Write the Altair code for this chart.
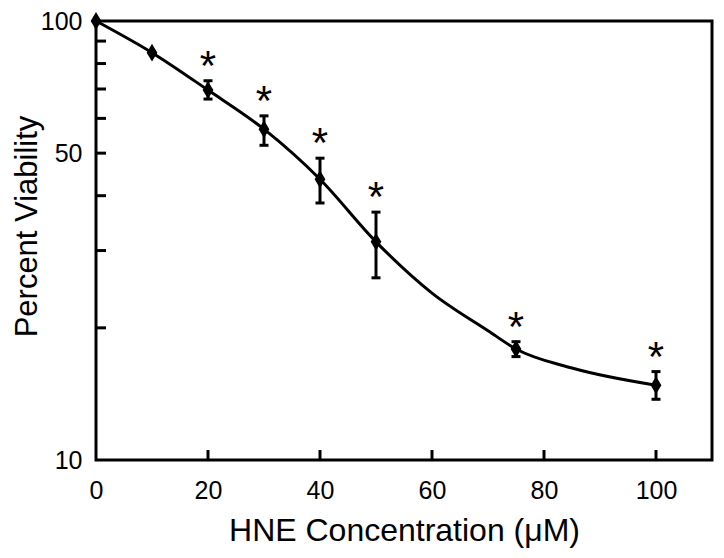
import altair as alt
import pandas as pd

# Measured data points (HNE concentration, µM -> percent viability)
conc = [0, 10, 20, 30, 40, 50, 75, 100]
viability = [100, 84.7, 69.6, 56.7, 43.6, 31.4, 17.9, 14.8]

# Error bars (only where visible)
err_conc = [20, 30, 40, 50, 75, 100]
err_lo = [66.4, 52.1, 38.5, 26.0, 17.2, 13.75]
err_hi = [73.1, 60.8, 48.7, 36.7, 18.6, 15.9]
significant = ["*", "*", "*", "*", "*", "*"]

# Fitted curve
curve_conc = [0, 10, 20, 30, 40, 50, 60, 70, 75, 85, 100]
curve_via = [100, 84.7, 69.6, 56.7, 43.6, 31.4, 24.0, 19.7, 17.9, 16.2, 14.8]

# Axis ticks
x_label_vals = [0, 20, 40, 60, 80, 100]
x_tick_vals = [20, 40, 60, 80, 100]
y_label_vals = [10, 50, 100]
y_tick_vals = [20, 30, 40, 50, 60, 70, 80, 90]

pts = pd.DataFrame({"conc": conc, "via": viability})
err = pd.DataFrame({"conc": err_conc, "lo": err_lo, "hi": err_hi, "star": significant})
curve = pd.DataFrame({"conc": curve_conc, "via": curve_via})
xt = pd.DataFrame({"v": x_tick_vals})
yt = pd.DataFrame({"v": y_tick_vals})

FONT = "Liberation Sans"
W, H = 616, 439

xscale = alt.Scale(domain=[0, 110], nice=False, zero=False)
yscale = alt.Scale(type="log", domain=[10, 100], nice=False)

xaxis = alt.Axis(values=x_label_vals, title="HNE Concentration (μM)", grid=False,
                 ticks=False, tickSize=0, domain=False, labelFontSize=25,
                 labelFont=FONT, labelColor="black", labelBaseline="alphabetic",
                 labelPadding=38, labelFlush=False,
                 titleFont=FONT, titleFontSize=32, titleFontWeight="normal",
                 titleColor="black", titleBaseline="alphabetic", titleY=80, titleX=W / 2)
yaxis = alt.Axis(values=y_label_vals, title="Percent Viability", grid=False,
                 ticks=False, tickSize=0, domain=False, labelFontSize=25,
                 labelFont=FONT, labelColor="black", labelPadding=14,
                 labelBaseline="middle", labelFlush=False, format="d",
                 titleFont=FONT, titleFontSize=31, titleFontWeight="normal",
                 titleColor="black", titleAngle=270, titleBaseline="alphabetic",
                 titleAlign="center", titleX=-60, titleY=205)


def X(f):
    return alt.X(f, type="quantitative", scale=xscale, axis=xaxis)


def Y(f):
    return alt.Y(f, type="quantitative", scale=yscale, axis=yaxis)


line = alt.Chart(curve).mark_line(color="black", strokeWidth=3, interpolate="monotone").encode(
    x=X("conc"), y=Y("via"),
)

bars = alt.Chart(err).mark_rule(color="black", strokeWidth=3).encode(
    x=X("conc"), y=Y("lo"), y2="hi:Q",
)
cap_lo = alt.Chart(err).mark_tick(color="black", thickness=3, size=9, orient="horizontal", opacity=1).encode(
    x=X("conc"), y=Y("lo"),
)
cap_hi = alt.Chart(err).mark_tick(color="black", thickness=3, size=9, orient="horizontal", opacity=1).encode(
    x=X("conc"), y=Y("hi"),
)

diamond = "M0,-1L0.6,0L0,1L-0.6,0Z"
points = alt.Chart(pts).mark_point(shape=diamond, filled=True, color="black", size=320, opacity=1).encode(
    x=X("conc"), y=Y("via"),
)

stars = alt.Chart(err).mark_text(font=FONT, fontSize=42, color="black", baseline="alphabetic", dy=-1).encode(
    x=X("conc"), y=Y("hi"), text="star:N",
)

ytick = alt.Chart(yt).mark_rule(color="black", strokeWidth=3).encode(
    y=Y("v"), x=alt.value(0), x2=alt.value(10),
)
xtick = alt.Chart(xt).mark_rule(color="black", strokeWidth=3).encode(
    x=X("v"), y=alt.value(H), y2=alt.value(H - 10),
)

chart = alt.layer(line, ytick, xtick, bars, cap_lo, cap_hi, points, stars).properties(
    width=W, height=H,
    background="white",
    autosize=alt.AutoSizeParams(type="none"),
    padding={"left": 88, "top": 13, "right": 4, "bottom": 90},
).configure_view(stroke="black", strokeWidth=3)

chart.save("out.html", embed_options={"renderer": "svg", "actions": False})
